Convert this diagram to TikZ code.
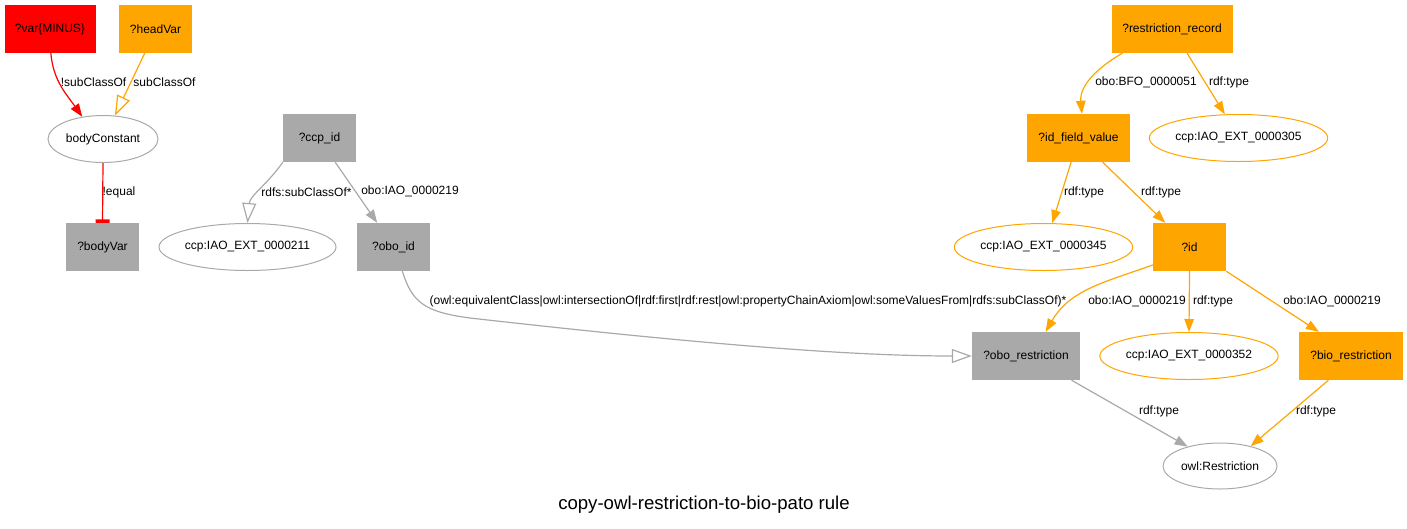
\documentclass[tikz,border=0pt]{standalone}
\usepackage{fontspec}
\setmainfont{Liberation Sans}
\usepackage{tikz}
\usetikzlibrary{arrows.meta,shapes.geometric}
\definecolor{rulered}{RGB}{255,0,0}
\definecolor{ruleorange}{RGB}{255,165,0}
\definecolor{rulegray}{RGB}{169,169,169}

\begin{document}
\begin{tikzpicture}[x=1pt, y=-1pt,
    varbox/.style={rectangle, inner sep=0pt, minimum height=48pt, font=\fontsize{12}{14}\selectfont},
    constnode/.style={ellipse, draw, line width=1pt, fill=white, inner sep=0pt, minimum height=47pt, font=\fontsize{12}{14}\selectfont},
    lbl/.style={inner sep=1pt, font=\fontsize{12}{14}\selectfont},
    edge/.style={line width=1.2pt},
    tip/.style={-{Triangle[length=13pt,width=9.5pt]}},
    otip/.style={-{Triangle[open,length=20pt,width=14pt]}}]
  \useasboundingbox (0,0) rectangle (1407,528);
  % variables
  \node[varbox, fill=rulered, minimum width=91pt] (minus) at (50,29) {?var\{MINUS\}};
  \node[varbox, fill=ruleorange, minimum width=73pt] (headvar) at (155.5,29) {?headVar};
  \node[constnode, draw=rulegray, minimum width=110pt] (bodyconst) at (103,139) {bodyConstant};
  \node[varbox, fill=rulegray, minimum width=73pt] (bodyvar) at (102.5,247) {?bodyVar};
  \node[varbox, fill=rulegray, minimum width=73pt] (ccpid) at (319.5,138) {?ccp\_id};
  \node[constnode, draw=rulegray, minimum width=169pt] (ext211) at (247.5,247) {ccp:IAO\_EXT\_0000211};
  \node[varbox, fill=rulegray, minimum width=73pt] (oboid) at (393.5,247) {?obo\_id};
  \node[varbox, fill=ruleorange, minimum width=121pt] (record) at (1172,29) {?restriction\_record};
  \node[varbox, fill=ruleorange, minimum width=103pt] (idfield) at (1078.5,138) {?id\_field\_value};
  \node[constnode, draw=ruleorange, minimum width=171pt] (ext305) at (1238.5,138) {ccp:IAO\_EXT\_0000305};
  \node[constnode, draw=ruleorange, minimum width=171pt] (ext345) at (1043.5,247) {ccp:IAO\_EXT\_0000345};
  \node[varbox, fill=ruleorange, minimum width=73pt] (id) at (1189.5,247) {?id};
  \node[varbox, fill=rulegray, minimum width=108pt] (oborestr) at (1026,356) {?obo\_restriction};
  \node[constnode, draw=ruleorange, minimum width=170pt] (ext352) at (1189,356) {ccp:IAO\_EXT\_0000352};
  \node[varbox, fill=ruleorange, minimum width=104pt] (biorestr) at (1351,356) {?bio\_restriction};
  \node[constnode, draw=rulegray, minimum width=114pt, minimum height=46pt] (owlrestr) at (1220,466) {owl:Restriction};
  \node[font=\fontsize{18.6}{22}\selectfont] (title) at (704,505) {copy-owl-restriction-to-bio-pato rule};

  % edges
  \draw[edge, rulered, tip] (minus.-88) to[out=-85, in=125] (bodyconst.133);
  \draw[edge, ruleorange, otip] (headvar.-114) -- (bodyconst.63);
  \draw[edge, rulered, -{Bar[width=14pt,line width=3.5pt]}] (bodyconst.south) -- (bodyvar.north);
  \draw[edge, rulegray, otip] (ccpid.south west) to[out=-125, in=85] (ext211.north);
  \draw[edge, rulegray, tip] (ccpid.-57) -- (oboid.124);
  \draw[edge, rulegray, otip] (oboid.-70) .. controls (412,302) and (424,312) .. (470,318)
      .. controls (700,344) and (850,356) .. (oborestr.west);
  \draw[edge, ruleorange, tip] (record.-154) to[out=-150, in=95] (idfield.82);
  \draw[edge, ruleorange, tip] (record.-58) -- (ext305.120);
  \draw[edge, ruleorange, tip] (idfield.-107) -- (ext345.70);
  \draw[edge, ruleorange, tip] (idfield.-45) -- (id.135);
  \draw[edge, ruleorange, tip] (id.-154) to[out=-160, in=60] (oborestr.51);
  \draw[edge, ruleorange, tip] (id.south) -- (ext352.north);
  \draw[edge, ruleorange, tip] (id.south east) -- (biorestr.143);
  \draw[edge, rulegray, tip] (oborestr.-28) -- (owlrestr.149);
  \draw[edge, ruleorange, tip] (biorestr.-133) -- (owlrestr.33);

  % edge labels
  \node[lbl] (l1) at (93.5,82) {!subClassOf};
  \node[lbl] (l2) at (164.5,82) {subClassOf};
  \node[lbl] (l3) at (119,192) {!equal};
  \node[lbl] (l4) at (306.5,192) {rdfs:subClassOf*};
  \node[lbl] (l5) at (410,191) {obo:IAO\_0000219};
  \node[lbl] (l6) at (748,301) {(owl:equivalentClass|owl:intersectionOf|rdf:first|rdf:rest|owl:propertyChainAxiom|owl:someValuesFrom|rdfs:subClassOf)*};
  \node[lbl] (l7) at (1146,82) {obo:BFO\_0000051};
  \node[lbl] (l8) at (1229,82) {rdf:type};
  \node[lbl] (l9) at (1084,192) {rdf:type};
  \node[lbl] (l10) at (1161,192) {rdf:type};
  \node[lbl] (l11) at (1137,301) {obo:IAO\_0000219};
  \node[lbl] (l12) at (1213,301) {rdf:type};
  \node[lbl] (l13) at (1332,301) {obo:IAO\_0000219};
  \node[lbl] (l14) at (1159,411) {rdf:type};
  \node[lbl] (l15) at (1316,411) {rdf:type};
\end{tikzpicture}
\end{document}
